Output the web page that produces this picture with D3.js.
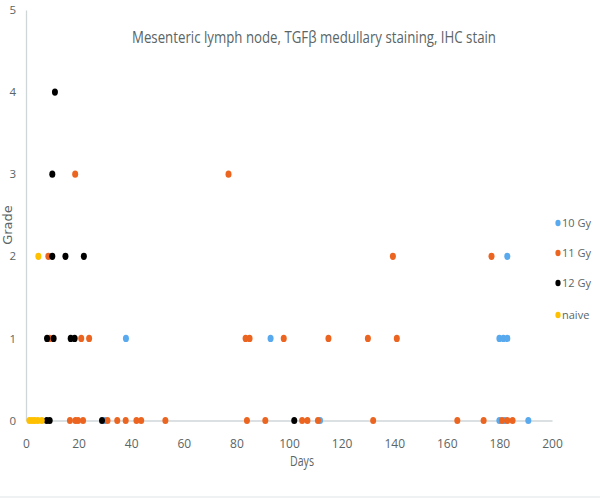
<!DOCTYPE html>
<html>
<head>
<meta charset="utf-8">
<script src="https://cdn.jsdelivr.net/npm/d3@7"></script>
<style>
  body { margin: 0; background: #ffffff; }
  text { font-family: "Open Sans", sans-serif; fill: #5a6566; }
</style>
</head>
<body>
<script>
// series names and colours
var categories = ["10 Gy", "11 Gy", "12 Gy", "naive"];
var colors = ["#58a9ee", "#ec6520", "#000000", "#ffc000"];

// 10 Gy
var days10 = [30, 111.8, 180, 182, 191, 38, 93, 180, 181.5, 183, 183];
var grade10 = [0, 0, 0, 0, 0, 1, 1, 1, 1, 1, 2];

// 11 Gy
var days11 = [16.7, 18.8, 19.8, 21.7, 31, 34.7, 37.9, 42, 43.8, 53, 84, 91, 105, 107, 111, 132, 164, 174, 181, 183, 185,
              9, 21, 24, 83.5, 85, 98, 115, 130, 141,
              8.5, 139.5, 177,
              18.7, 77];
var grade11 = [0, 0, 0, 0, 0, 0, 0, 0, 0, 0, 0, 0, 0, 0, 0, 0, 0, 0, 0, 0, 0,
               1, 1, 1, 1, 1, 1, 1, 1, 1,
               2, 2, 2,
               3, 3];

// 12 Gy
var days12 = [7.9, 9, 28.9, 102, 8, 10.5, 17, 18.5, 10, 15, 22, 10, 11];
var grade12 = [0, 0, 0, 0, 1, 1, 1, 1, 2, 2, 2, 3, 4];

// naive
var daysNaive = [1.3, 2.3, 3.3, 4.5, 6, 4.7];
var gradeNaive = [0, 0, 0, 0, 0, 2];

var xTicks = [0, 20, 40, 60, 80, 100, 120, 140, 160, 180, 200];
var yTicks = [0, 1, 2, 3, 4, 5];

var seriesDays = [days10, days11, days12, daysNaive];
var seriesGrades = [grade10, grade11, grade12, gradeNaive];

var svg = d3.select("body").append("svg")
    .attr("width", 600)
    .attr("height", 500);

var x = d3.scaleLinear().domain([0, 200]).range([26, 552]);
var y = d3.scaleLinear().domain([0, 5]).range([420.5, 10]);

// title, squeezed to the narrow width of the original font
svg.append("text")
    .attr("x", 314)
    .attr("y", 43)
    .attr("text-anchor", "middle")
    .attr("textLength", 364)
    .attr("lengthAdjust", "spacingAndGlyphs")
    .style("font-size", "17px")
    .text("Mesenteric lymph node, TGFβ medullary staining, IHC stain");

// x axis
var xAxis = svg.append("g")
    .attr("transform", "translate(0," + y(0) + ")")
    .call(d3.axisBottom(x).tickValues(xTicks).tickSize(0).tickSizeOuter(0).tickFormat(d3.format("d")));
xAxis.select(".domain").attr("stroke", "#cfd6d8").attr("stroke-width", 1.3);
xAxis.selectAll("text")
    .attr("y", 27)
    .attr("dy", 0)
    .style("font-size", "12px")
    .style("font-family", "'Open Sans', sans-serif");

// y axis
var yAxis = svg.append("g")
    .attr("transform", "translate(" + x(0) + ",0)")
    .call(d3.axisLeft(y).tickValues(yTicks).tickSize(0).tickSizeOuter(0).tickPadding(10).tickFormat(d3.format("d")));
yAxis.select(".domain").attr("stroke", "#cfd6d8").attr("stroke-width", 1.3);
yAxis.selectAll("text")
    .style("font-size", "11.5px")
    .style("font-family", "'Open Sans', sans-serif");

// axis titles
svg.append("text")
    .attr("x", 302)
    .attr("y", 466)
    .attr("text-anchor", "middle")
    .attr("textLength", 24)
    .attr("lengthAdjust", "spacingAndGlyphs")
    .style("font-size", "14px")
    .text("Days");

svg.append("text")
    .attr("transform", "translate(12,225) rotate(-90)")
    .attr("text-anchor", "middle")
    .style("font-family", "'DejaVu Sans', sans-serif")
    .style("font-size", "13px")
    .text("Grade");

// points, one group per series
categories.forEach(function (name, i) {
    var pts = seriesDays[i].map(function (d, j) { return [d, seriesGrades[i][j]]; });
    svg.append("g").selectAll("ellipse")
        .data(pts)
        .enter().append("ellipse")
        .attr("cx", function (d) { return x(d[0]); })
        .attr("cy", function (d) { return y(d[1]); })
        .attr("rx", 3)
        .attr("ry", 3.6)
        .style("fill", colors[i]);
});

// legend
var legend = svg.append("g").selectAll("g")
    .data(categories)
    .enter().append("g")
    .attr("transform", function (d, i) { return "translate(558," + [223, 253, 283, 315][i] + ")"; });

legend.append("ellipse")
    .attr("rx", 2.6)
    .attr("ry", 3.2)
    .style("fill", function (d, i) { return colors[i]; });

legend.append("text")
    .attr("x", 4)
    .attr("dy", "0.35em")
    .style("font-size", "11px")
    .text(function (d) { return d; });

// bottom frame line
svg.append("line")
    .attr("x1", 0)
    .attr("x2", 600)
    .attr("y1", 497)
    .attr("y2", 497)
    .style("stroke", "#dfe4e6")
    .style("stroke-width", 1);
</script>
</body>
</html>
